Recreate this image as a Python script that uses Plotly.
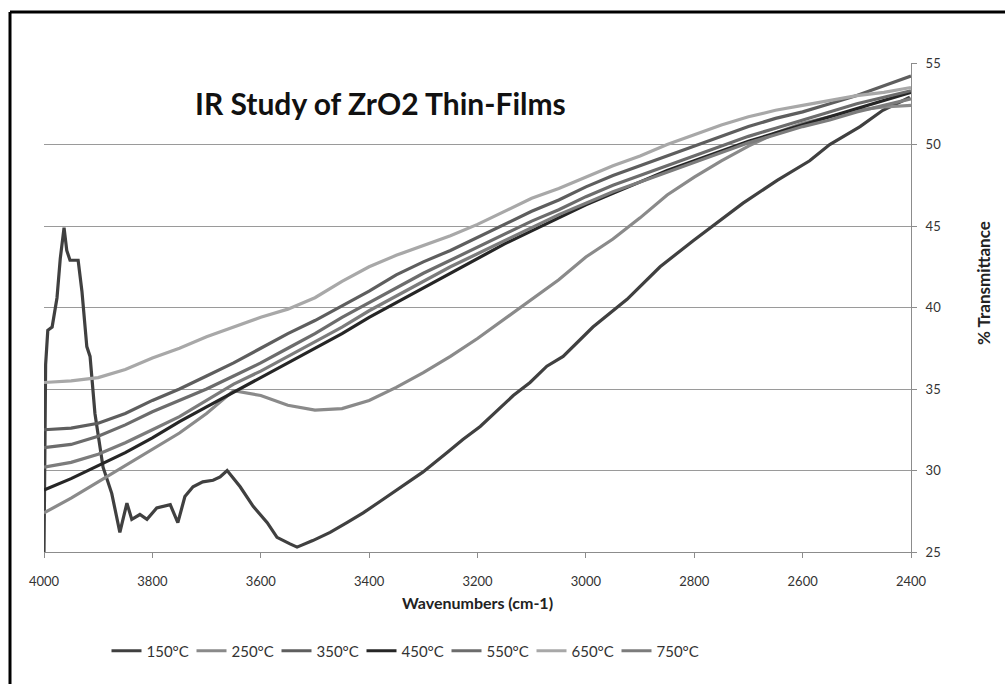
import plotly.graph_objects as go

# Wavenumbers (cm-1) for the 250-750 °C spectra
wn = [4000, 3950, 3900, 3850, 3800, 3750, 3700, 3650, 3600, 3550, 3500,
      3450, 3400, 3350, 3300, 3250, 3200, 3150, 3100, 3050, 3000, 2950,
      2900, 2850, 2800, 2750, 2700, 2650, 2600, 2550, 2500, 2450, 2400]

t250 = [27.4, 28.3, 29.3, 30.3, 31.3, 32.3, 33.5, 34.9, 34.6, 34.0, 33.7,
        33.8, 34.3, 35.1, 36.0, 37.0, 38.1, 39.3, 40.5, 41.7, 43.1, 44.2,
        45.5, 46.9, 48.0, 49.0, 49.9, 50.7, 51.3, 51.7, 52.1, 52.3, 52.4]
t350 = [32.5, 32.6, 32.9, 33.5, 34.3, 35.0, 35.8, 36.6, 37.5, 38.4, 39.2,
        40.1, 41.0, 42.0, 42.8, 43.5, 44.3, 45.1, 45.9, 46.6, 47.4, 48.1,
        48.7, 49.3, 49.9, 50.5, 51.1, 51.6, 52.0, 52.5, 53.0, 53.6, 54.2]
t450 = [28.8, 29.5, 30.3, 31.1, 32.0, 33.0, 33.9, 34.8, 35.7, 36.6, 37.5,
        38.4, 39.4, 40.3, 41.2, 42.1, 43.0, 43.9, 44.7, 45.5, 46.3, 47.0,
        47.7, 48.4, 49.0, 49.6, 50.2, 50.7, 51.2, 51.7, 52.2, 52.7, 53.2]
t550 = [31.4, 31.6, 32.1, 32.8, 33.6, 34.3, 35.0, 35.8, 36.6, 37.5, 38.4,
        39.4, 40.3, 41.2, 42.1, 42.9, 43.7, 44.5, 45.3, 46.0, 46.8, 47.5,
        48.1, 48.7, 49.3, 49.9, 50.5, 51.0, 51.5, 52.0, 52.5, 52.9, 53.3]
t650 = [35.4, 35.5, 35.7, 36.2, 36.9, 37.5, 38.2, 38.8, 39.4, 39.9, 40.6,
        41.6, 42.5, 43.2, 43.8, 44.4, 45.1, 45.9, 46.7, 47.3, 48.0, 48.7,
        49.3, 50.0, 50.6, 51.2, 51.7, 52.1, 52.4, 52.7, 53.0, 53.2, 53.5]
t750 = [30.2, 30.5, 31.0, 31.7, 32.5, 33.3, 34.3, 35.3, 36.1, 37.0, 37.9,
        38.8, 39.8, 40.7, 41.6, 42.5, 43.3, 44.1, 44.9, 45.7, 46.4, 47.1,
        47.7, 48.3, 48.9, 49.5, 50.1, 50.6, 51.1, 51.5, 52.0, 52.4, 52.8]

# 150 °C spectrum read at its own wavenumbers (more detail near 4000)
wn150 = [4000, 3997, 3993, 3985, 3976, 3970, 3963, 3958, 3952, 3937, 3930,
         3921, 3915, 3906, 3891, 3875, 3860, 3847, 3838, 3823, 3810, 3792,
         3767, 3753, 3740, 3725, 3707, 3688, 3675, 3662, 3638, 3614, 3588,
         3570, 3546, 3533, 3504, 3472, 3441, 3411, 3380, 3349, 3319, 3301,
         3256, 3227, 3195, 3164, 3134, 3103, 3072, 3042, 3011, 2987, 2924,
         2863, 2802, 2758, 2710, 2647, 2587, 2550, 2494, 2452, 2402]
t150 = [25.0, 36.5, 38.6, 38.8, 40.6, 43.0, 44.9, 43.5, 42.9, 42.9, 41.0,
        37.6, 37.0, 33.5, 30.2, 28.6, 26.2, 28.0, 27.0, 27.3, 27.0, 27.7,
        27.9, 26.8, 28.4, 29.0, 29.3, 29.4, 29.6, 30.0, 29.0, 27.8, 26.8,
        25.9, 25.5, 25.3, 25.7, 26.2, 26.8, 27.4, 28.1, 28.8, 29.5, 29.9,
        31.1, 31.9, 32.7, 33.7, 34.6, 35.4, 36.4, 37.0, 38.0, 38.8, 40.5,
        42.5, 44.1, 45.2, 46.4, 47.8, 49.0, 50.0, 51.1, 52.1, 52.9]

names = ["150°C", "250°C", "350°C", "450°C", "550°C", "650°C", "750°C"]
colors = ["#404040", "#8a8a8a", "#5e5e5e", "#262626", "#6c6c6c", "#a8a8a8", "#7c7c7c"]
xs = [wn150, wn, wn, wn, wn, wn, wn]
ys = [t150, t250, t350, t450, t550, t650, t750]

FONT = "Lato, 'Open Sans', sans-serif"

fig = go.Figure()
for n, c, x, y in zip(names, colors, xs, ys):
    fig.add_trace(go.Scatter(x=x, y=y, mode="lines", name=n,
                             line=dict(color=c, width=3.2)))

L, R, T, B = 44, 911, 63, 552
W, H = 1005, 684
pw, ph = R - L, B - T

def px(xp):
    return (xp - L) / pw

def py(yp):
    return (B - yp) / ph

fig.update_layout(
    width=W, height=H,
    margin=dict(l=L, r=W - R, t=T, b=H - B, pad=0),
    paper_bgcolor="white", plot_bgcolor="white",
    font=dict(family=FONT, color="#333333", size=13),
    showlegend=True,
    legend=dict(orientation="h", x=px(404), xanchor="center",
                y=py(651), yanchor="middle",
                entrywidth=40, entrywidthmode="pixels",
                font=dict(size=15, color="#333333", family=FONT),
                bgcolor="rgba(0,0,0,0)", tracegroupgap=0),
    xaxis=dict(range=[4000, 2400], tickmode="linear", tick0=2400, dtick=200,
               showgrid=False, zeroline=False,
               showline=True, linecolor="#8c8c8c", linewidth=1,
               ticks="outside", ticklen=5, tickcolor="#8c8c8c",
               ticklabelstandoff=12,
               tickfont=dict(size=13, color="#333333", family=FONT),
               title=dict(text="<b>Wavenumbers (cm-1)</b>", standoff=10,
                          font=dict(size=16, color="#222222", family=FONT))),
    yaxis=dict(range=[25, 55], side="right", tickmode="linear", tick0=25, dtick=5,
               showgrid=True, gridcolor="#9a9a9a", gridwidth=1, zeroline=False,
               showline=True, linecolor="#8c8c8c", linewidth=1,
               ticks="outside", ticklen=5, tickcolor="#8c8c8c",
               ticklabelstandoff=6,
               tickfont=dict(size=13, color="#333333", family=FONT)),
    annotations=[
        dict(text="<b>IR Study of ZrO2 Thin-Films</b>", xref="paper", yref="paper",
             x=px(380), y=py(103), xanchor="center", yanchor="middle",
             showarrow=False, font=dict(size=30, color="#111111", family=FONT)),
        dict(text="<b>% Transmittance</b>", xref="paper", yref="paper",
             x=px(983), y=py(283), xanchor="center", yanchor="middle",
             textangle=-90, showarrow=False,
             font=dict(size=17, color="#222222", family=FONT)),
    ],
    shapes=[
        dict(type="line", xref="paper", yref="paper",
             x0=px(10), y0=py(12), x1=px(1020), y1=py(12),
             line=dict(color="black", width=3)),
        dict(type="line", xref="paper", yref="paper",
             x0=px(10), y0=py(12), x1=px(10), y1=py(700),
             line=dict(color="black", width=3)),
    ],
)

fig.write_html("out.html")
